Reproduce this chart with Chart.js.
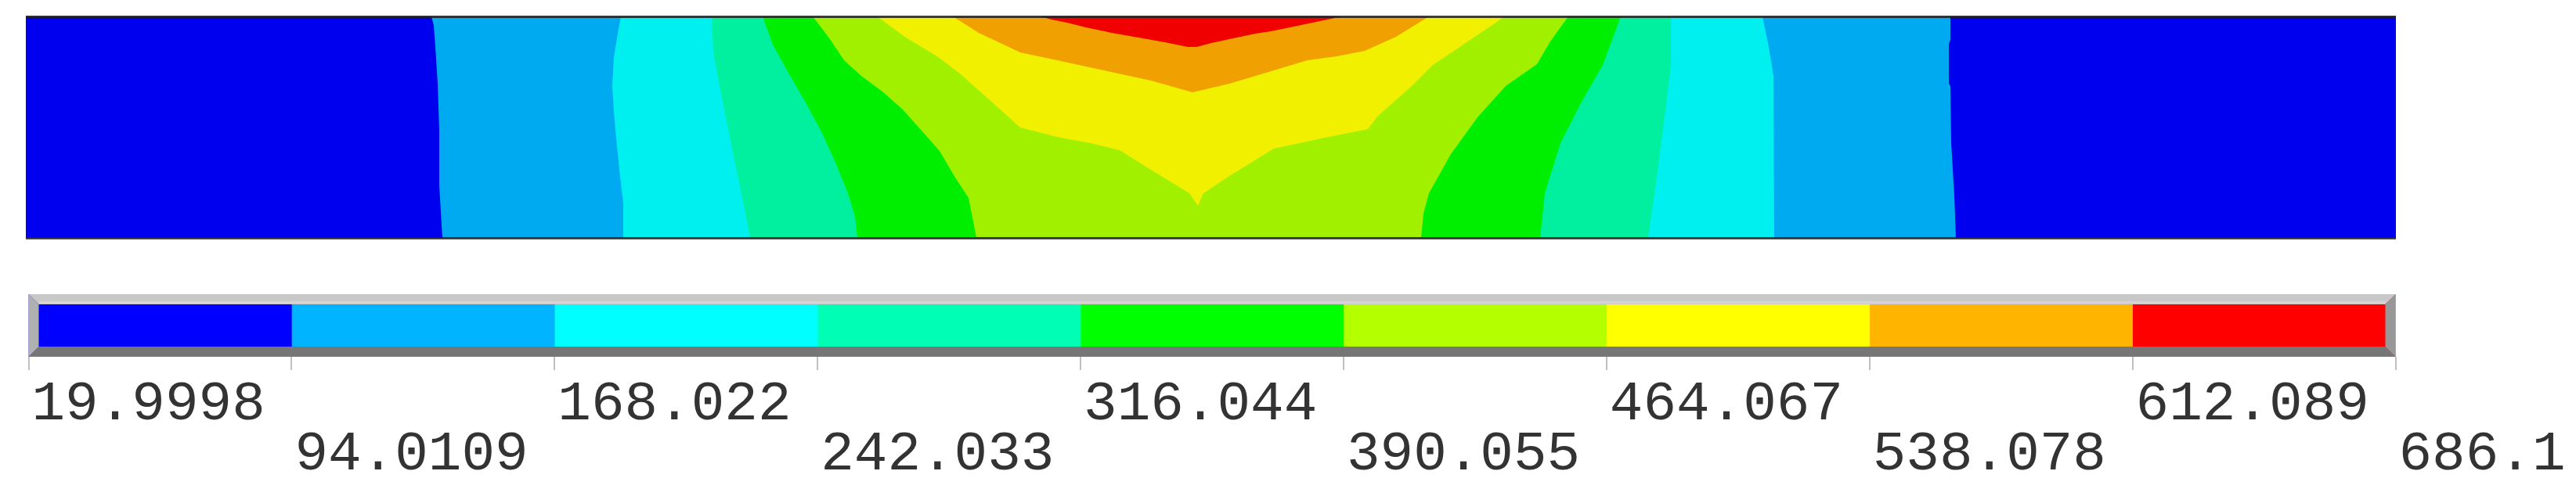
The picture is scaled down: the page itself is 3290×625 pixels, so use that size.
<!DOCTYPE html>
<html>
<head>
<meta charset="utf-8">
<title>Contour plot</title>
<script src="https://cdn.jsdelivr.net/npm/chart.js@4"></script>
<style>
  html, body { margin: 0; padding: 0; background: #fff; }
  canvas { position: absolute; left: 0; }
  #plate { top: 0; }
  #scale { top: 360px; }
</style>
</head>
<body>
<canvas id="plate" width="3290" height="340"></canvas>
<canvas id="scale" width="3290" height="265"></canvas>
<script>
// contour levels and their labels
const levelEdges = [19.9998, 94.0109, 168.022, 242.033, 316.044, 390.055, 464.067, 538.078, 612.089, 686.1];
const tickLabels = ['19.9998', '94.0109', '168.022', '242.033', '316.044', '390.055', '464.067', '538.078', '612.089', '686.1'];

// band colours, plate render is slightly darker than the scale bar
const plateColors = ['#0000ee', '#00aaf0', '#00f0f0', '#00f0a0', '#00ee00', '#a0f000', '#f0f000', '#f0a000', '#f00000'];
const scaleColors = ['#0000ff', '#00b4ff', '#00ffff', '#00ffb4', '#00ff00', '#b4ff00', '#ffff00', '#ffb400', '#ff0000'];

// plate outline
const plateX = [0, 0, 3027, 3027];
const plateDepth = [0, 283, 283, 0];

// isotherm outlines: position along plate, depth from top
const iso94X = [518, 521, 523, 526, 528, 528, 532, 2465, 2463, 2459, 2458, 2456, 2456, 2458, 2458];
const iso94Depth = [0, 12, 39, 86, 146, 216, 283, 283, 229, 161, 89, 86, 36, 29, 0];
const iso168X = [760, 756, 751, 749, 751, 754, 758, 763, 763, 2233, 2232, 2226, 2218];
const iso168Depth = [0, 22, 52, 89, 122, 156, 196, 239, 283, 283, 76, 39, 0];
const iso242X = [876, 878, 886, 904, 918, 925, 2072, 2082, 2095, 2101, 2101];
const iso242Depth = [0, 46, 89, 179, 246, 283, 283, 212, 112, 62, 0];
const iso316X = [941, 954, 974, 997, 1017, 1035, 1050, 1059, 1062, 1934, 1940, 1960, 1987, 2014, 2037];
const iso316Depth = [0, 36, 72, 112, 149, 189, 226, 256, 283, 283, 226, 162, 109, 62, 0];
const iso390X = [1005, 1027, 1045, 1067, 1094, 1120, 1144, 1167, 1187, 1204, 1210, 1214, 1782, 1785, 1792, 1820, 1854, 1890, 1930, 1947, 1970];
const iso390Depth = [0, 29, 56, 76, 96, 119, 146, 172, 206, 232, 262, 283, 283, 252, 226, 176, 129, 89, 61, 32, 0];
const iso464X = [1087, 1124, 1164, 1194, 1230, 1270, 1317, 1360, 1397, 1437, 1486, 1497, 1504, 1537, 1594, 1654, 1714, 1727, 1770, 1797, 1827, 1889];
const iso464Depth = [0, 27, 51, 74, 106, 142, 154, 162, 171, 196, 226, 242, 226, 204, 169, 156, 144, 127, 89, 62, 42, 0];
const iso538X = [1184, 1217, 1270, 1317, 1437, 1490, 1537, 1587, 1637, 1674, 1710, 1750, 1792];
const iso538Depth = [0, 21, 46, 56, 82, 97, 86, 71, 56, 51, 44, 26, 0];
const iso612X = [1295, 1310, 1330, 1354, 1387, 1404, 1427, 1460, 1484, 1495, 1514, 1537, 1570, 1590, 1624, 1662, 1682];
const iso612Depth = [0, 4, 8, 14, 21, 24, 28, 34, 39, 39, 34, 29, 22, 19, 12, 4, 0];

const bandX = [plateX, iso94X, iso168X, iso242X, iso316X, iso390X, iso464X, iso538X, iso612X];
const bandDepth = [plateDepth, iso94Depth, iso168Depth, iso242Depth, iso316Depth, iso390Depth, iso464Depth, iso538Depth, iso612Depth];

new Chart(document.getElementById('plate'), {
  type: 'scatter',
  data: {
    datasets: bandX.map((xs, i) => ({
      data: xs.map((x, j) => ({ x, y: bandDepth[i][j] })),
      showLine: true,
      fill: 'shape',
      backgroundColor: plateColors[i],
      borderWidth: 0,
      pointRadius: 0,
      order: -i,
    })),
  },
  options: {
    responsive: false,
    animation: false,
    layout: { padding: { left: 33, right: 230, top: 21, bottom: 36 } },
    plugins: { legend: { display: false }, tooltip: { enabled: false } },
    scales: {
      x: { type: 'linear', min: 0, max: 3027, display: false },
      y: {
        type: 'linear',
        min: 0,
        max: 283,
        reverse: true,
        afterBuildTicks: axis => { axis.ticks = [{ value: 0 }, { value: 283 }]; },
        afterFit: axis => { axis.width = 0; },
        ticks: { display: false },
        border: { display: false },
        grid: { color: 'rgba(30,30,30,0.85)', lineWidth: 3, drawTicks: false, z: 1 },
      },
    },
  },
});

// bevelled frame around the scale bar
const bevelFrame = {
  id: 'bevelFrame',
  afterDatasetsDraw(chart) {
    const { left, right, top, bottom } = chart.chartArea;
    const w = 13;
    const ctx = chart.ctx;
    const side = (color, pts) => {
      ctx.fillStyle = color;
      ctx.beginPath();
      pts.forEach((p, i) => (i ? ctx.lineTo(p[0], p[1]) : ctx.moveTo(p[0], p[1])));
      ctx.closePath();
      ctx.fill();
    };
    side('#c8c8c8', [[left, top], [right, top], [right - w, top + w], [left + w, top + w]]);
    side('#767676', [[left, bottom], [right, bottom], [right - w, bottom - w], [left + w, bottom - w]]);
    side('#b0b0b0', [[left, top], [left + w, top + w], [left + w, bottom - w], [left, bottom]]);
    side('#989898', [[right, top], [right - w, top + w], [right - w, bottom - w], [right, bottom]]);
    // thin pale line just above the colours
    ctx.fillStyle = '#d8d2d2';
    ctx.fillRect(left + w, top + w - 4, right - left - 2 * w, 3);
  },
};

new Chart(document.getElementById('scale'), {
  type: 'bar',
  data: {
    labels: ['level'],
    datasets: scaleColors.map((color, i) => ({
      data: [[levelEdges[i], levelEdges[i + 1]]],
      backgroundColor: color,
      borderWidth: 0,
      grouped: false,
      barPercentage: 1,
      categoryPercentage: 1,
    })),
  },
  plugins: [bevelFrame],
  options: {
    indexAxis: 'y',
    responsive: false,
    animation: false,
    layout: { padding: { left: 36.5, right: 230.5, top: 16, bottom: 0 } },
    plugins: { legend: { display: false }, tooltip: { enabled: false } },
    scales: {
      y: { display: false },
      x: {
        type: 'linear',
        min: levelEdges[0],
        max: levelEdges[levelEdges.length - 1],
        afterBuildTicks: axis => { axis.ticks = levelEdges.map(value => ({ value })); },
        afterFit: axis => { axis.height = 169; axis.paddingLeft = 0; axis.paddingRight = 0; },
        border: { display: false },
        grid: { drawOnChartArea: false, color: '#c0c0c0', lineWidth: 2, tickLength: 17 },
        ticks: {
          autoSkip: false,
          maxRotation: 0,
          align: 'start',
          labelOffset: 4,
          padding: 12,
          color: '#333',
          font: { family: '"Liberation Mono", monospace', size: 71, lineHeight: 0.9 },
          callback: (value, index) => (index % 2 ? ['', tickLabels[index]] : [tickLabels[index], '']),
        },
      },
    },
  },
});
</script>
</body>
</html>
